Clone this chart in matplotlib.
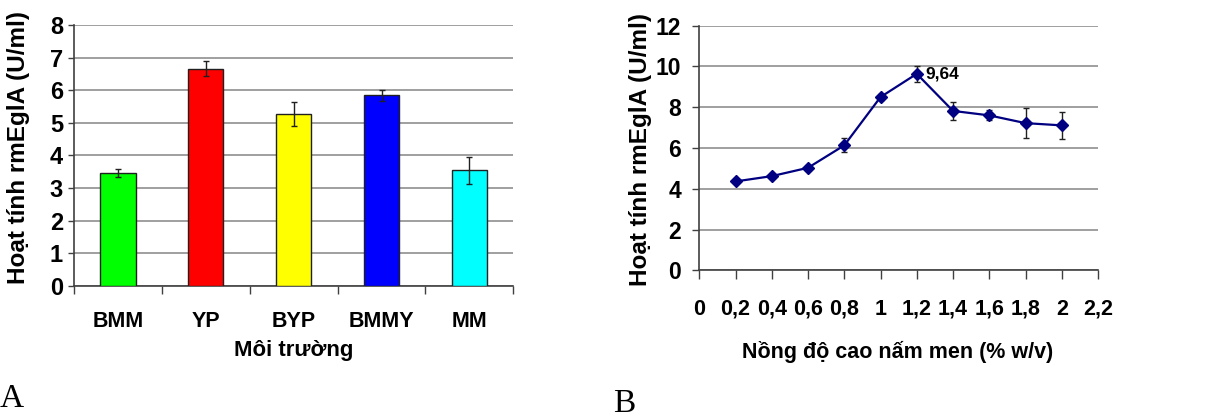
import matplotlib
matplotlib.use("Agg")
import matplotlib.pyplot as plt
from matplotlib.ticker import FixedLocator, FixedFormatter, NullFormatter

plt.rcParams['font.family'] = ['Liberation Sans', 'DejaVu Sans']
plt.rcParams['font.weight'] = 'bold'

# Panel A: enzyme activity by culture medium
media = ["BMM", "YP", "BYP", "BMMY", "MM"]
activity_a = [3.47, 6.65, 5.26, 5.84, 3.54]
error_a = [0.12, 0.23, 0.37, 0.18, 0.41]
bar_colors = ["#00ff00", "#ff0000", "#ffff00", "#0000ff", "#00ffff"]

# Panel B: enzyme activity vs. yeast extract concentration
conc = [0.2, 0.4, 0.6, 0.8, 1.0, 1.2, 1.4, 1.6, 1.8, 2.0]
activity_b = [4.36, 4.62, 5.03, 6.13, 8.50, 9.64, 7.82, 7.60, 7.22, 7.11]
error_b = [0.08, 0.08, 0.1, 0.34, 0.15, 0.38, 0.45, 0.25, 0.72, 0.68]
conc_ticks = [0, 0.2, 0.4, 0.6, 0.8, 1.0, 1.2, 1.4, 1.6, 1.8, 2.0, 2.2]
conc_tick_labels = ["0", "0,2", "0,4", "0,6", "0,8", "1", "1,2", "1,4", "1,6", "1,8", "2", "2,2"]
peak_label = "9,64"

ylabel = "Hoạt tính rmEglA (U/ml)"
xlabel_a = "Môi trường"
xlabel_b = "Nồng độ cao nấm men (% w/v)"

W, H = 1219, 419
fig = plt.figure(figsize=(W / 100, H / 100), dpi=100)

grid_color = "#8f8f8f"
spine_color = "#404040"

# ---------- Panel A ----------
axA = fig.add_axes([74 / W, 1 - 285.7 / H, (513.3 - 74) / W, (285.7 - 25) / H])
x = list(range(len(media)))
axA.bar(x, activity_a, width=0.4, color=bar_colors, edgecolor="#202020",
        linewidth=1.0, zorder=3)
axA.errorbar(x, activity_a, yerr=error_a, fmt="none", ecolor="#202020",
             elinewidth=1.0, capsize=2.2, capthick=1.0, zorder=4)
axA.set_xlim(-0.5, len(media) - 0.5)
axA.set_ylim(0, 8)
axA.set_yticks(range(0, 9))
axA.yaxis.grid(True, color=grid_color, linewidth=1.2, zorder=0)
axA.set_axisbelow(True)
axA.xaxis.set_major_locator(FixedLocator([i - 0.5 for i in range(len(media) + 1)]))
axA.xaxis.set_major_formatter(NullFormatter())
axA.xaxis.set_minor_locator(FixedLocator(x))
axA.xaxis.set_minor_formatter(FixedFormatter(media))
axA.tick_params(axis="x", which="major", length=6, width=1, color=spine_color)
axA.tick_params(axis="x", which="minor", length=0, pad=18, labelsize=15.5)
axA.tick_params(axis="y", length=4.5, width=1, color=spine_color, pad=3.5, labelsize=17)
for s in ("top", "right"):
    axA.spines[s].set_visible(False)
for s in ("left", "bottom"):
    axA.spines[s].set_color(spine_color)
    axA.spines[s].set_linewidth(1.2)

# ---------- Panel B ----------
axB = fig.add_axes([699.3 / W, 1 - 270.3 / H, (1098 - 699.3) / W, (270.3 - 25.7) / H])
axB.errorbar(conc, activity_b, yerr=error_b, fmt="none", ecolor="#202020",
             elinewidth=1.0, capsize=2.4, capthick=1.0, zorder=3)
axB.plot(conc, activity_b, color="#000080", linewidth=1.6, marker="D",
         markersize=6.5, markerfacecolor="#000080", markeredgecolor="#000080", zorder=4)
axB.annotate(peak_label, xy=(conc[5], activity_b[5]), xytext=(6, 0),
             textcoords="offset points", ha="left", va="center",
             fontsize=12.5, fontweight="bold")
axB.set_xlim(0, 2.2)
axB.set_ylim(0, 12)
axB.set_yticks(range(0, 13, 2))
axB.xaxis.set_major_locator(FixedLocator(conc_ticks))
axB.xaxis.set_major_formatter(FixedFormatter(conc_tick_labels))
axB.yaxis.grid(True, color=grid_color, linewidth=1.2, zorder=0)
axB.set_axisbelow(True)
axB.tick_params(axis="x", length=6.5, width=1, color=spine_color, pad=14, labelsize=15.5)
axB.tick_params(axis="y", length=5, width=1, color=spine_color, pad=8, labelsize=16.5)
for s in ("top", "right"):
    axB.spines[s].set_visible(False)
for s in ("left", "bottom"):
    axB.spines[s].set_color(spine_color)
    axB.spines[s].set_linewidth(1.2)

# ---------- Axis titles and panel letters ----------
fig.text(19 / W, 1 - 148 / H, ylabel, rotation=90, ha="center", va="center",
         fontsize=17.5, fontweight="bold")
fig.text(640 / W, 1 - 150 / H, ylabel, rotation=90, ha="center", va="center",
         fontsize=17.5, fontweight="bold")
fig.text(294 / W, 1 - 356 / H, xlabel_a, ha="center", va="baseline",
         fontsize=16, fontweight="bold")
fig.text(898 / W, 1 - 358 / H, xlabel_b, ha="center", va="baseline",
         fontsize=15.5, fontweight="bold")
fig.text(0 / W, 1 - 406.5 / H, "A", ha="left", va="baseline",
         fontsize=24, fontweight="normal", family="Liberation Serif")
fig.text(613 / W, 1 - 412 / H, "B", ha="left", va="baseline",
         fontsize=24, fontweight="normal", family="Liberation Serif")

fig.savefig("out.png", dpi=100)
